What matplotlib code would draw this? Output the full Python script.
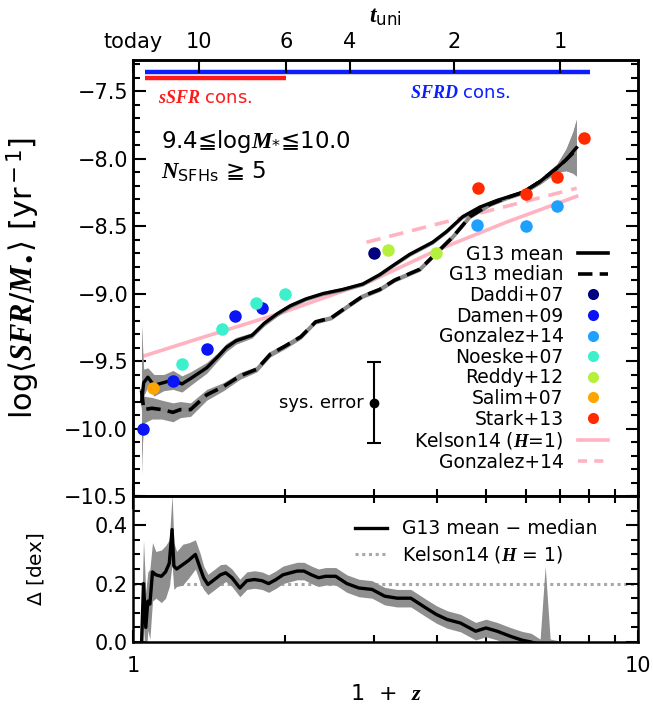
import numpy as np
import matplotlib
matplotlib.use('Agg')
import matplotlib.pyplot as plt
from matplotlib.lines import Line2D
from matplotlib.ticker import MultipleLocator, NullFormatter, FixedLocator, FixedFormatter

plt.rcParams['font.family'] = ['DejaVu Sans']
plt.rcParams['mathtext.fontset'] = 'custom'
plt.rcParams['mathtext.it'] = 'Liberation Serif:italic:bold'
plt.rcParams['mathtext.rm'] = 'DejaVu Sans'
plt.rcParams['mathtext.bf'] = 'Liberation Serif:bold'
plt.rcParams['axes.linewidth'] = 1.8

# ---------------- data (1+z on x) ----------------
mean_x = [1.040, 1.05, 1.07, 1.10, 1.15, 1.20, 1.25, 1.30, 1.40, 1.47, 1.53, 1.60, 1.72,
          1.82, 1.93, 2.05, 2.20, 2.38, 2.60, 2.85, 3.08, 3.25, 3.53, 3.92, 4.18, 4.50,
          4.86, 5.26, 5.92, 6.40, 6.91, 7.20, 7.43, 7.55]
mean_y = [-9.80, -9.66, -9.62, -9.68, -9.66, -9.64, -9.67, -9.63, -9.55, -9.47, -9.40, -9.35,
          -9.31, -9.22, -9.15, -9.09, -9.04, -9.00, -8.97, -8.93, -8.86, -8.80, -8.71, -8.62,
          -8.54, -8.43, -8.36, -8.31, -8.25, -8.17, -8.07, -8.01, -7.95, -7.92]
mean_err = [0.55, 0.10, 0.07, 0.08, 0.06, 0.07, 0.06, 0.05, 0.04, 0.03, 0.03, 0.025, 0.02,
            0.02, 0.02, 0.018, 0.015, 0.015, 0.015, 0.015, 0.015, 0.015, 0.015, 0.015, 0.015,
            0.015, 0.015, 0.015, 0.015, 0.02, 0.03, 0.08, 0.15, 0.21]

median_x = [1.040, 1.05, 1.09, 1.14, 1.20, 1.24, 1.30, 1.40, 1.51, 1.63, 1.76, 1.87, 2.00,
            2.15, 2.30, 2.47, 2.65, 2.85, 3.08, 3.30, 3.70, 3.99, 4.30, 4.65, 5.09, 5.50,
            5.92, 6.40, 6.91, 7.20, 7.43, 7.55]
median_y = [-9.72, -9.86, -9.85, -9.86, -9.88, -9.86, -9.86, -9.75, -9.69, -9.61, -9.56, -9.45,
            -9.39, -9.32, -9.21, -9.18, -9.10, -9.02, -8.97, -8.90, -8.82, -8.70, -8.58, -8.43,
            -8.34, -8.29, -8.25, -8.17, -8.07, -8.01, -7.96, -7.92]
median_err = [0.50, 0.10, 0.08, 0.07, 0.07, 0.06, 0.05, 0.04, 0.03, 0.025, 0.02, 0.02, 0.02,
              0.018, 0.015, 0.015, 0.015, 0.015, 0.015, 0.015, 0.015, 0.015, 0.015, 0.015, 0.015,
              0.015, 0.015, 0.02, 0.03, 0.08, 0.15, 0.21]

kelson_x = [1.056, 1.36, 1.98, 2.95, 3.99, 5.50, 7.56]
kelson_y = [-9.46, -9.33, -9.14, -8.91, -8.68, -8.47, -8.28]

gonz_line_x = [2.90, 7.56]
gonz_line_y = [-8.62, -8.22]

daddi_x = [3.00];  daddi_y = [-8.70]
damen_x = [1.047, 1.200, 1.401, 1.592, 1.800]
damen_y = [-10.00, -9.65, -9.41, -9.17, -9.11]
gonz_x = [4.80, 6.00, 6.92]
gonz_y = [-8.49, -8.50, -8.35]
noeske_x = [1.250, 1.500, 1.751, 2.00]
noeske_y = [-9.52, -9.26, -9.07, -9.00]
reddy_x = [3.20, 3.99]
reddy_y = [-8.68, -8.70]
salim_x = [1.095]
salim_y = [-9.70]
stark_x = [4.83, 6.00, 6.92, 7.80]
stark_y = [-8.22, -8.26, -8.14, -7.85]

syserr_x, syserr_y, syserr_e = 3.0, -9.81, 0.30

ssfr_range = [1.056, 2.01]
sfrd_range = [1.056, 8.05]

tuni_pos = [1.0, 1.351, 2.01, 2.69, 4.32, 7.01]
tuni_lab = ['today', '10', '6', '4', '2', '1']

delta_x = [1.030, 1.040, 1.049, 1.06, 1.07, 1.08, 1.093, 1.11, 1.138, 1.16, 1.18, 1.195, 1.205,
           1.22, 1.255, 1.29, 1.329, 1.36, 1.38, 1.407, 1.45, 1.49, 1.526, 1.57, 1.628, 1.68,
           1.739, 1.80, 1.856, 1.92, 1.981, 2.05, 2.114, 2.18, 2.256, 2.33, 2.408, 2.52, 2.652,
           2.80, 2.974, 3.15, 3.333, 3.55, 3.799, 3.99, 4.189, 4.45, 4.77, 5.0, 5.26, 5.6, 5.9,
           6.14, 6.40, 6.55, 6.70, 7.20, 7.55]
delta_y = [-0.05, 0.00, 0.20, 0.05, 0.14, 0.13, 0.24, 0.23, 0.225, 0.24, 0.27, 0.385, 0.26,
           0.25, 0.265, 0.28, 0.30, 0.25, 0.22, 0.197, 0.214, 0.23, 0.237, 0.22, 0.185, 0.21,
           0.214, 0.21, 0.20, 0.214, 0.23, 0.237, 0.243, 0.243, 0.23, 0.22, 0.225, 0.225, 0.20,
           0.185, 0.18, 0.157, 0.15, 0.15, 0.117, 0.094, 0.077, 0.065, 0.037, 0.048, 0.037,
           0.019, 0.006, 0.0, -0.01, -0.02, -0.01, -0.02, -0.03]
delta_err = [0.05, 0.10, 0.15, 0.12, 0.10, 0.12, 0.10, 0.08, 0.09, 0.09, 0.08, 0.12, 0.08,
             0.06, 0.07, 0.06, 0.05, 0.05, 0.04, 0.035, 0.035, 0.035, 0.03, 0.03, 0.03, 0.03,
             0.03, 0.03, 0.03, 0.03, 0.03, 0.03, 0.03, 0.03, 0.03, 0.03, 0.03, 0.03, 0.03,
             0.03, 0.03, 0.03, 0.03, 0.03, 0.03, 0.03, 0.03, 0.03, 0.03, 0.03, 0.03, 0.03, 0.03,
             0.03, 0.02, 0.28, 0.02, 0.02, 0.02]
kelson_delta = 0.2

# colours
c_band = '#8f8f8f'
c_pink = '#ffb3c1'
c_daddi = '#00007f'
c_damen = '#0a14f5'
c_gonz = '#1ea0ff'
c_noeske = '#3cf0cc'
c_reddy = '#b4f03c'
c_salim = '#ffa500'
c_stark = '#ff2a00'

TICK_FS = 15
fig = plt.figure(figsize=(6.53, 7.11), dpi=100)
ax1 = fig.add_axes([133/653, 1-496/711, 505/653, 436/711])
ax2 = fig.add_axes([133/653, 1-642/711, 505/653, 146/711])

# ---------------- main panel ----------------
ax1.plot(kelson_x, kelson_y, color=c_pink, lw=2.6, zorder=2)
ax1.plot(gonz_line_x, gonz_line_y, color=c_pink, lw=2.6, dashes=(4, 2.5), zorder=2)

mx = np.array(mean_x); my = np.array(mean_y); me = np.array(mean_err)
dx = np.array(median_x); dy = np.array(median_y); de = np.array(median_err)
ax1.fill_between(dx, dy - de, dy + de, color=c_band, lw=0, zorder=3)
ax1.fill_between(mx, my - me, my + me, color=c_band, lw=0, zorder=3)
ax1.plot(dx, dy, color='#8a8a8a', lw=2.6, zorder=4)
ax1.plot(dx, dy, color='k', lw=2.6, dashes=(4, 2), zorder=4)
ax1.plot(mx, my, color='k', lw=2.4, zorder=4)

ms = 9
pts = [(daddi_x, daddi_y, c_daddi), (damen_x, damen_y, c_damen), (gonz_x, gonz_y, c_gonz),
       (noeske_x, noeske_y, c_noeske), (reddy_x, reddy_y, c_reddy), (salim_x, salim_y, c_salim),
       (stark_x, stark_y, c_stark)]
for xs, ys, c in pts:
    ax1.plot(xs, ys, 'o', color=c, ms=ms, mec='none', zorder=5)

ax1.errorbar([syserr_x], [syserr_y], yerr=[syserr_e], fmt='o', color='k', ms=6,
             capsize=5, lw=1.5, capthick=1.5, zorder=5)
ax1.text(syserr_x * 0.955, syserr_y, 'sys. error', ha='right', va='center', fontsize=13)

ax1.plot(sfrd_range, [-7.358, -7.358], color='#0a1eff', lw=3.2, solid_capstyle='butt', zorder=5)
ax1.plot(ssfr_range, [-7.400, -7.400], color='#ff1a1a', lw=3.2, solid_capstyle='butt', zorder=5)
ax1.text(1.12, -7.555, r'$\mathit{sSFR}$ cons.', color='#ff1a1a', fontsize=13, va='center')
ax1.text(3.54, -7.515, r'$\mathit{SFRD}$ cons.', color='#0a1eff', fontsize=13, va='center')

ax1.text(1.135, -7.875, '9.4≦log$\\mathit{M}_{*}$≦10.0', fontsize=16.5, va='center')
ax1.text(1.135, -8.095, '$\\mathit{N}_{\\rm SFHs}$ ≧ 5', fontsize=16.5, va='center')

ax1.set_xscale('log')
ax1.set_xlim(1, 10)
ax1.set_ylim(-10.5, -7.27)
ax1.yaxis.set_major_locator(MultipleLocator(0.5))
ax1.yaxis.set_minor_locator(MultipleLocator(0.1))
ax1.yaxis.set_major_formatter(plt.FuncFormatter(lambda v, p: ('%.1f' % v).replace('-', '\u2212')))
ax1.tick_params(axis='both', which='both', direction='in', right=True, top=False)
ax1.tick_params(which='major', length=9, width=1.5, labelsize=TICK_FS)
ax1.tick_params(which='minor', length=5, width=1.5)
ax1.xaxis.set_major_formatter(NullFormatter())
ax1.xaxis.set_minor_formatter(NullFormatter())
ax1.set_ylabel(r'log$\langle\mathit{SFR/M}_{\bullet}\rangle$ [yr$^{\rm -1}$]', fontsize=22)
ax1.yaxis.set_label_coords(-0.18, 0.5)

# legend main
h = [Line2D([], [], color='k', lw=2.6),
     Line2D([], [], color='k', lw=2.6, dashes=(4, 2)),
     Line2D([], [], ls='none', marker='o', color=c_daddi, ms=8, mec='none'),
     Line2D([], [], ls='none', marker='o', color=c_damen, ms=8, mec='none'),
     Line2D([], [], ls='none', marker='o', color=c_gonz, ms=8, mec='none'),
     Line2D([], [], ls='none', marker='o', color=c_noeske, ms=8, mec='none'),
     Line2D([], [], ls='none', marker='o', color=c_reddy, ms=8, mec='none'),
     Line2D([], [], ls='none', marker='o', color=c_salim, ms=8, mec='none'),
     Line2D([], [], ls='none', marker='o', color=c_stark, ms=8, mec='none'),
     Line2D([], [], color=c_pink, lw=2.6),
     Line2D([], [], color=c_pink, lw=2.6, dashes=(2.5, 2))]
labs = ['G13 mean', 'G13 median', 'Daddi+07', 'Damen+09', 'Gonzalez+14', 'Noeske+07',
        'Reddy+12', 'Salim+07', 'Stark+13', r'Kelson14 ($\mathit{H}$=1)', 'Gonzalez+14']
ax1.legend(h, labs, markerfirst=False, frameon=False, loc='upper right',
           bbox_to_anchor=(0.94, 0.576), borderaxespad=0, borderpad=0,
           fontsize=13.5, handlelength=1.6, handletextpad=0.75, labelspacing=0.085)

# top axis
axt = ax1.twiny()
axt.set_xscale('log')
axt.set_xlim(1, 10)
axt.xaxis.set_major_locator(FixedLocator(tuni_pos))
axt.xaxis.set_major_formatter(FixedFormatter(tuni_lab))
axt.xaxis.set_minor_locator(FixedLocator([]))
axt.tick_params(axis='x', which='major', direction='in', length=9, width=1.5,
                labelsize=TICK_FS, pad=6)
axt.set_xlabel(r'$\mathit{t}_{\rm uni}$', fontsize=17)
axt.xaxis.set_label_coords(0.5, 1.085)

# ---------------- bottom panel ----------------
ax2.axhline(kelson_delta, color='#a8a8a8', lw=2.2, ls=(0, (1, 1.2)), zorder=1)
ex = np.array(delta_x); ey = np.array(delta_y); ee = np.array(delta_err)
ax2.fill_between(ex, ey - ee, ey + ee, color=c_band, lw=0, zorder=2)
ax2.plot(ex, ey, color='k', lw=2.4, zorder=3)
ax2.set_xscale('log')
ax2.set_xlim(1, 10)
ax2.set_ylim(0, 0.5)
ax2.xaxis.set_major_locator(FixedLocator([1, 10]))
ax2.xaxis.set_major_formatter(FixedFormatter(['1', '10']))
ax2.xaxis.set_minor_formatter(NullFormatter())
ax2.yaxis.set_major_locator(FixedLocator([0.0, 0.2, 0.4]))
ax2.yaxis.set_major_formatter(FixedFormatter(['0.0', '0.2', '0.4']))
ax2.yaxis.set_minor_locator(MultipleLocator(0.05))
ax2.tick_params(axis='both', which='both', direction='in', right=True, top=True)
ax2.tick_params(which='major', length=9, width=1.5, labelsize=TICK_FS)
ax2.tick_params(axis='x', which='major', pad=10)
ax2.tick_params(which='minor', length=5, width=1.5)
ax2.set_xlabel(r'1  +  $\mathit{z}$', fontsize=16)
ax2.xaxis.set_label_coords(0.5, -0.285)
ax2.set_ylabel(r'$\Delta$ [dex]', fontsize=14.5)
ax2.yaxis.set_label_coords(-0.172, 0.5)

h2 = [Line2D([], [], color='k', lw=2.4),
      Line2D([], [], color='#a8a8a8', lw=2.2, ls=(0, (1, 1.2)))]
ax2.legend(h2, ['G13 mean \u2212 median', r'Kelson14 ($\mathit{H}$ = 1)'], frameon=False,
           loc='upper left', bbox_to_anchor=(0.44, 0.84), borderaxespad=0, borderpad=0,
           fontsize=13.5, handlelength=1.7, handletextpad=0.8, labelspacing=0.3)

fig.savefig('out.png', dpi=100)
